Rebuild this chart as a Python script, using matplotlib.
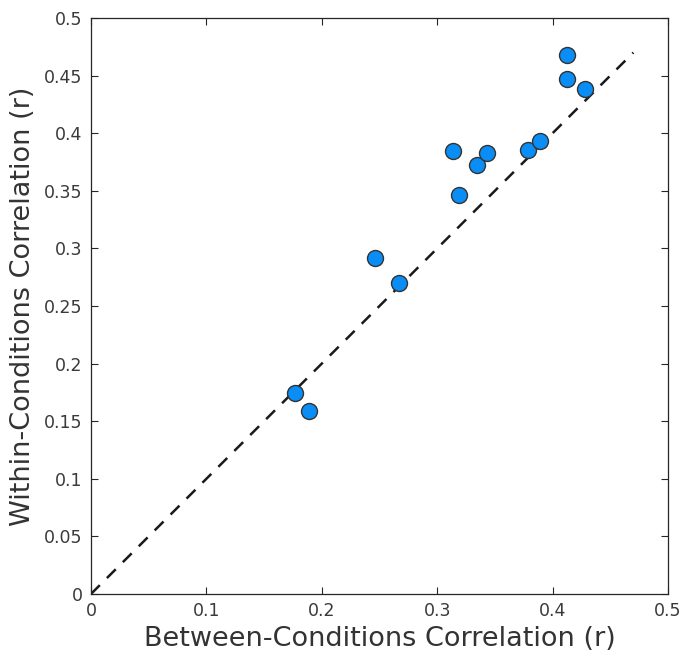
import matplotlib.pyplot as plt

# between- vs within-conditions correlation per subject
between_r = [0.177, 0.189, 0.246, 0.267, 0.314, 0.319, 0.3345, 0.343, 0.379, 0.389, 0.4125, 0.4125, 0.428]
within_r = [0.1745, 0.159, 0.292, 0.270, 0.3845, 0.346, 0.372, 0.383, 0.385, 0.393, 0.468, 0.447, 0.438]
identity_end = 0.47

plt.rcParams['font.family'] = 'DejaVu Sans'

fig = plt.figure(figsize=(6.83, 6.58), dpi=100)
ax = fig.add_axes([0.1332, 0.0973, 0.8448, 0.8753])

ax.plot([0, identity_end], [0, identity_end], '--', color='#1a1a1a', lw=1.8, dashes=(5, 4), zorder=2)
ax.plot(between_r, within_r, 'o', ms=11.5, markerfacecolor='#0a8ef5',
        markeredgecolor='#333333', markeredgewidth=1.0, zorder=3)

ax.set_xlim(0, 0.5)
ax.set_ylim(0, 0.5)
ax.set_xticks([0, 0.1, 0.2, 0.3, 0.4, 0.5])
ax.set_xticklabels(['0', '0.1', '0.2', '0.3', '0.4', '0.5'])
ax.set_yticks([i * 0.05 for i in range(11)])
ax.set_yticklabels(['0', '0.05', '0.1', '0.15', '0.2', '0.25', '0.3', '0.35', '0.4', '0.45', '0.5'])
ax.tick_params(direction='in', top=True, right=True, length=5, width=0.8,
               labelsize=12.5, colors='#262626', pad=6)
ax.tick_params(labelcolor='#3a3a3a')
for s in ax.spines.values():
    s.set_color('#262626')
    s.set_linewidth(0.9)

ax.set_xlabel('Between-Conditions Correlation (r)', fontsize=19.5, color='#333333', labelpad=4)
ax.set_ylabel('Within-Conditions Correlation (r)', fontsize=19.5, color='#333333', labelpad=6)

fig.savefig('out.png', dpi=100)
